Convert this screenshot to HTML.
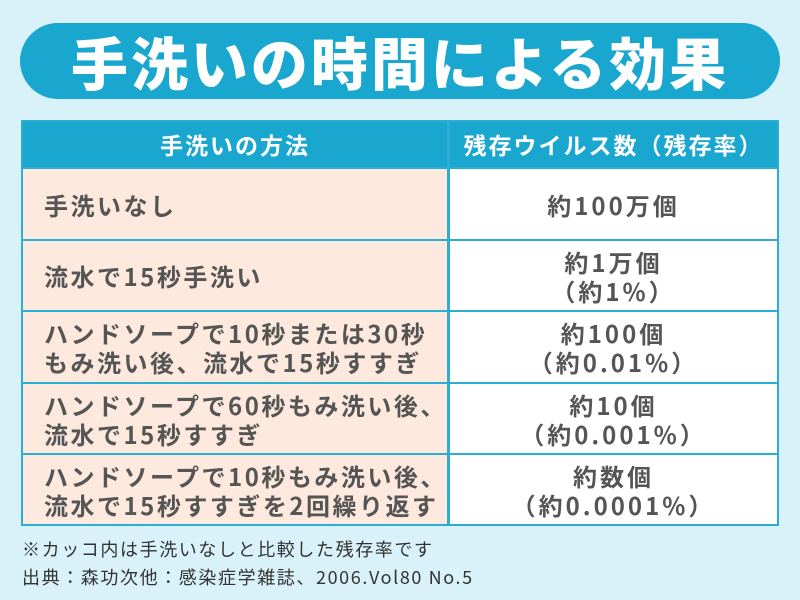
<!DOCTYPE html>
<html><head><meta charset="utf-8"><style>
*{margin:0;padding:0;box-sizing:border-box}
body{width:800px;height:600px;background:#d9f1f8;position:relative;overflow:hidden;font-family:"Liberation Sans","Noto Sans CJK JP",sans-serif}
.title{position:absolute;left:20px;top:23px;width:760px;height:76px;background:#19a7d0;border-radius:38px;color:#fff;font-weight:900;font-size:57px;text-align:center;line-height:76px;letter-spacing:3px;font-family:"Noto Sans CJK JP",sans-serif}
.c{position:absolute;display:flex;flex-direction:column;justify-content:center;font-family:"Noto Sans CJK JP",sans-serif;font-weight:bold;color:#555;font-size:24px;line-height:29px;letter-spacing:2.5px;white-space:nowrap}
.h{background:#19a7d0;color:#fff;align-items:center;font-size:23px;letter-spacing:2px}
.l{background:#fde9dd;padding-left:21px}
.r{background:#fff;align-items:center;text-align:center;font-size:24px;letter-spacing:3px}
.foot{position:absolute;left:22px;font-size:18px;color:#333;font-family:"Noto Sans CJK JP",sans-serif;letter-spacing:1.6px}
</style></head><body>
<div class="title">手洗いの時間による効果</div>
<div style="position:absolute;left:21px;top:120px;width:758px;height:406px;background:#2aaed4"></div>
<div class="c h" style="left:23px;top:122px;width:424px;height:45px">手洗いの方法</div>
<div class="c h" style="left:450px;top:122px;width:327px;height:45px">残存ウイルス数（残存率）</div>

<div class="c l" style="left:23px;top:169px;width:424px;height:70px">手洗いなし</div>
<div class="c r" style="left:450px;top:169px;width:327px;height:70px">約100万個</div>

<div class="c l" style="left:23px;top:241px;width:424px;height:69px">流水で15秒手洗い</div>
<div class="c r" style="left:450px;top:241px;width:327px;height:69px"><div>約1万個</div><div>（約1%）</div></div>

<div class="c l" style="left:23px;top:312px;width:424px;height:70px"><div>ハンドソープで10秒または30秒</div><div>もみ洗い後、流水で15秒すすぎ</div></div>
<div class="c r" style="left:450px;top:312px;width:327px;height:70px"><div>約100個</div><div>（約0.01%）</div></div>

<div class="c l" style="left:23px;top:384px;width:424px;height:69px"><div>ハンドソープで60秒もみ洗い後、</div><div>流水で15秒すすぎ</div></div>
<div class="c r" style="left:450px;top:384px;width:327px;height:69px"><div>約10個</div><div>（約0.001%）</div></div>

<div class="c l" style="left:23px;top:455px;width:424px;height:69px"><div>ハンドソープで10秒もみ洗い後、</div><div>流水で15秒すすぎを2回繰り返す</div></div>
<div class="c r" style="left:450px;top:455px;width:327px;height:69px"><div>約数個</div><div>（約0.0001%）</div></div>

<div class="foot" style="top:536px">※カッコ内は手洗いなしと比較した残存率です</div>
<div class="foot" style="top:564px">出典：森功次他：感染症学雑誌、2006.Vol80 No.5</div>
</body></html>
